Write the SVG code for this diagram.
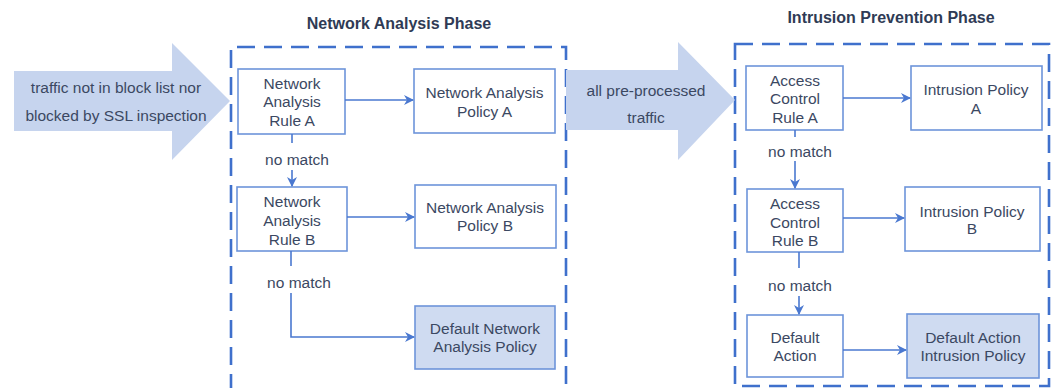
<svg xmlns="http://www.w3.org/2000/svg" width="1052" height="388" viewBox="0 0 1052 388">
<defs>
<style>
text{font-family:"Liberation Sans",Arial,sans-serif;font-size:15.5px;fill:#3b4862;text-anchor:middle}
.title{font-weight:bold;font-size:16px;fill:#2f3b55}
.box{fill:#ffffff;stroke:#6d94da;stroke-width:1.6}
.def{fill:#cfdbf1;stroke:#6d94da;stroke-width:1.6}
.phase{fill:none;stroke:#3f70cc;stroke-width:2.6;stroke-dasharray:18 9}
.big{fill:#c6d4ee}
.con{fill:none;stroke:#4a78d0;stroke-width:1.6}
</style>
<marker id="ah" viewBox="0 0 10 10" refX="9" refY="5" markerWidth="10" markerHeight="10" markerUnits="userSpaceOnUse" orient="auto">
<path d="M0,0 L10,5 L0,10 L3,5 z" fill="#4a78d0"/>
</marker>
</defs>
<rect width="1052" height="388" fill="#ffffff"/>

<g id="phases">
<path class="phase" d="M231,392 L231,47 L566,47 L566,392"/>
<rect class="phase" x="735" y="44" width="314" height="342"/>
<text class="title" x="399" y="29">Network Analysis Phase</text>
<text class="title" x="891" y="23">Intrusion Prevention Phase</text>
</g>

<g id="arrow-in">
<polygon class="big" points="14,71 172,71 172,43 230,101 172,160 172,131 14,131"/>
<text x="116" y="92.5">traffic not in block list nor</text>
<text x="116" y="120.5">blocked by SSL inspection</text>
</g>

<g id="arrow-mid">
<polygon class="big" points="566,70 678,70 678,42 735,100 678,160 678,130 566,130"/>
<text x="646" y="95.5">all pre-processed</text>
<text x="646" y="123">traffic</text>
</g>

<g id="na-rule-a">
<rect class="box" x="238" y="69" width="107" height="65"/>
<text x="292" y="88.5">Network</text>
<text x="292" y="106.5">Analysis</text>
<text x="292" y="125.5">Rule A</text>
</g>
<g id="na-policy-a">
<rect class="box" x="414" y="69" width="141" height="64"/>
<text x="484.5" y="97.5">Network Analysis</text>
<text x="484.5" y="116.5">Policy A</text>
</g>
<g id="na-rule-b">
<rect class="box" x="237" y="187" width="110" height="64"/>
<text x="292" y="206.5">Network</text>
<text x="292" y="225.5">Analysis</text>
<text x="292" y="244.5">Rule B</text>
</g>
<g id="na-policy-b">
<rect class="box" x="415" y="185" width="141" height="63"/>
<text x="485" y="212.5">Network Analysis</text>
<text x="485" y="230.5">Policy B</text>
</g>
<g id="na-default">
<rect class="def" x="415" y="306" width="140" height="63"/>
<text x="485" y="333.5">Default Network</text>
<text x="485" y="351.5">Analysis Policy</text>
</g>

<g id="ac-rule-a">
<rect class="box" x="746" y="66" width="97" height="64"/>
<text x="795" y="85.5">Access</text>
<text x="795" y="103.5">Control</text>
<text x="795" y="122.5">Rule A</text>
</g>
<g id="ip-a">
<rect class="box" x="911" y="66" width="131" height="64"/>
<text x="976" y="94.5">Intrusion Policy</text>
<text x="976" y="113.5">A</text>
</g>
<g id="ac-rule-b">
<rect class="box" x="747" y="189" width="96" height="63"/>
<text x="795" y="208.5">Access</text>
<text x="795" y="227.5">Control</text>
<text x="795" y="245.5">Rule B</text>
</g>
<g id="ip-b">
<rect class="box" x="905" y="187" width="135" height="64"/>
<text x="972" y="216.5">Intrusion Policy</text>
<text x="972" y="233.5">B</text>
</g>
<g id="default-action">
<rect class="box" x="747" y="315" width="96" height="62"/>
<text x="795" y="342.5">Default</text>
<text x="795" y="360.5">Action</text>
</g>
<g id="ip-default">
<rect class="def" x="907" y="314" width="132" height="64"/>
<text x="973" y="342.5">Default Action</text>
<text x="973" y="360.5">Intrusion Policy</text>
</g>

<g id="connectors">
<line class="con" x1="345" y1="100" x2="413" y2="100" marker-end="url(#ah)"/>
<line class="con" x1="292" y1="134" x2="292" y2="143"/>
<text x="297" y="164.5">no match</text>
<line class="con" x1="292" y1="170" x2="292" y2="186" marker-end="url(#ah)"/>
<line class="con" x1="347" y1="217" x2="414" y2="217" marker-end="url(#ah)"/>
<line class="con" x1="291" y1="251" x2="291" y2="266"/>
<text x="299" y="287.5">no match</text>
<path class="con" d="M291,293 L291,337 L414,337" marker-end="url(#ah)"/>
<line class="con" x1="843" y1="98" x2="910" y2="98" marker-end="url(#ah)"/>
<line class="con" x1="795" y1="130" x2="795" y2="137"/>
<text x="800" y="156.5">no match</text>
<line class="con" x1="795" y1="161" x2="795" y2="188" marker-end="url(#ah)"/>
<line class="con" x1="843" y1="218" x2="904" y2="218" marker-end="url(#ah)"/>
<line class="con" x1="799" y1="252" x2="799" y2="268"/>
<text x="800" y="290.5">no match</text>
<line class="con" x1="799" y1="296" x2="799" y2="314" marker-end="url(#ah)"/>
<line class="con" x1="843" y1="350" x2="906" y2="350" marker-end="url(#ah)"/>
</g>
</svg>
